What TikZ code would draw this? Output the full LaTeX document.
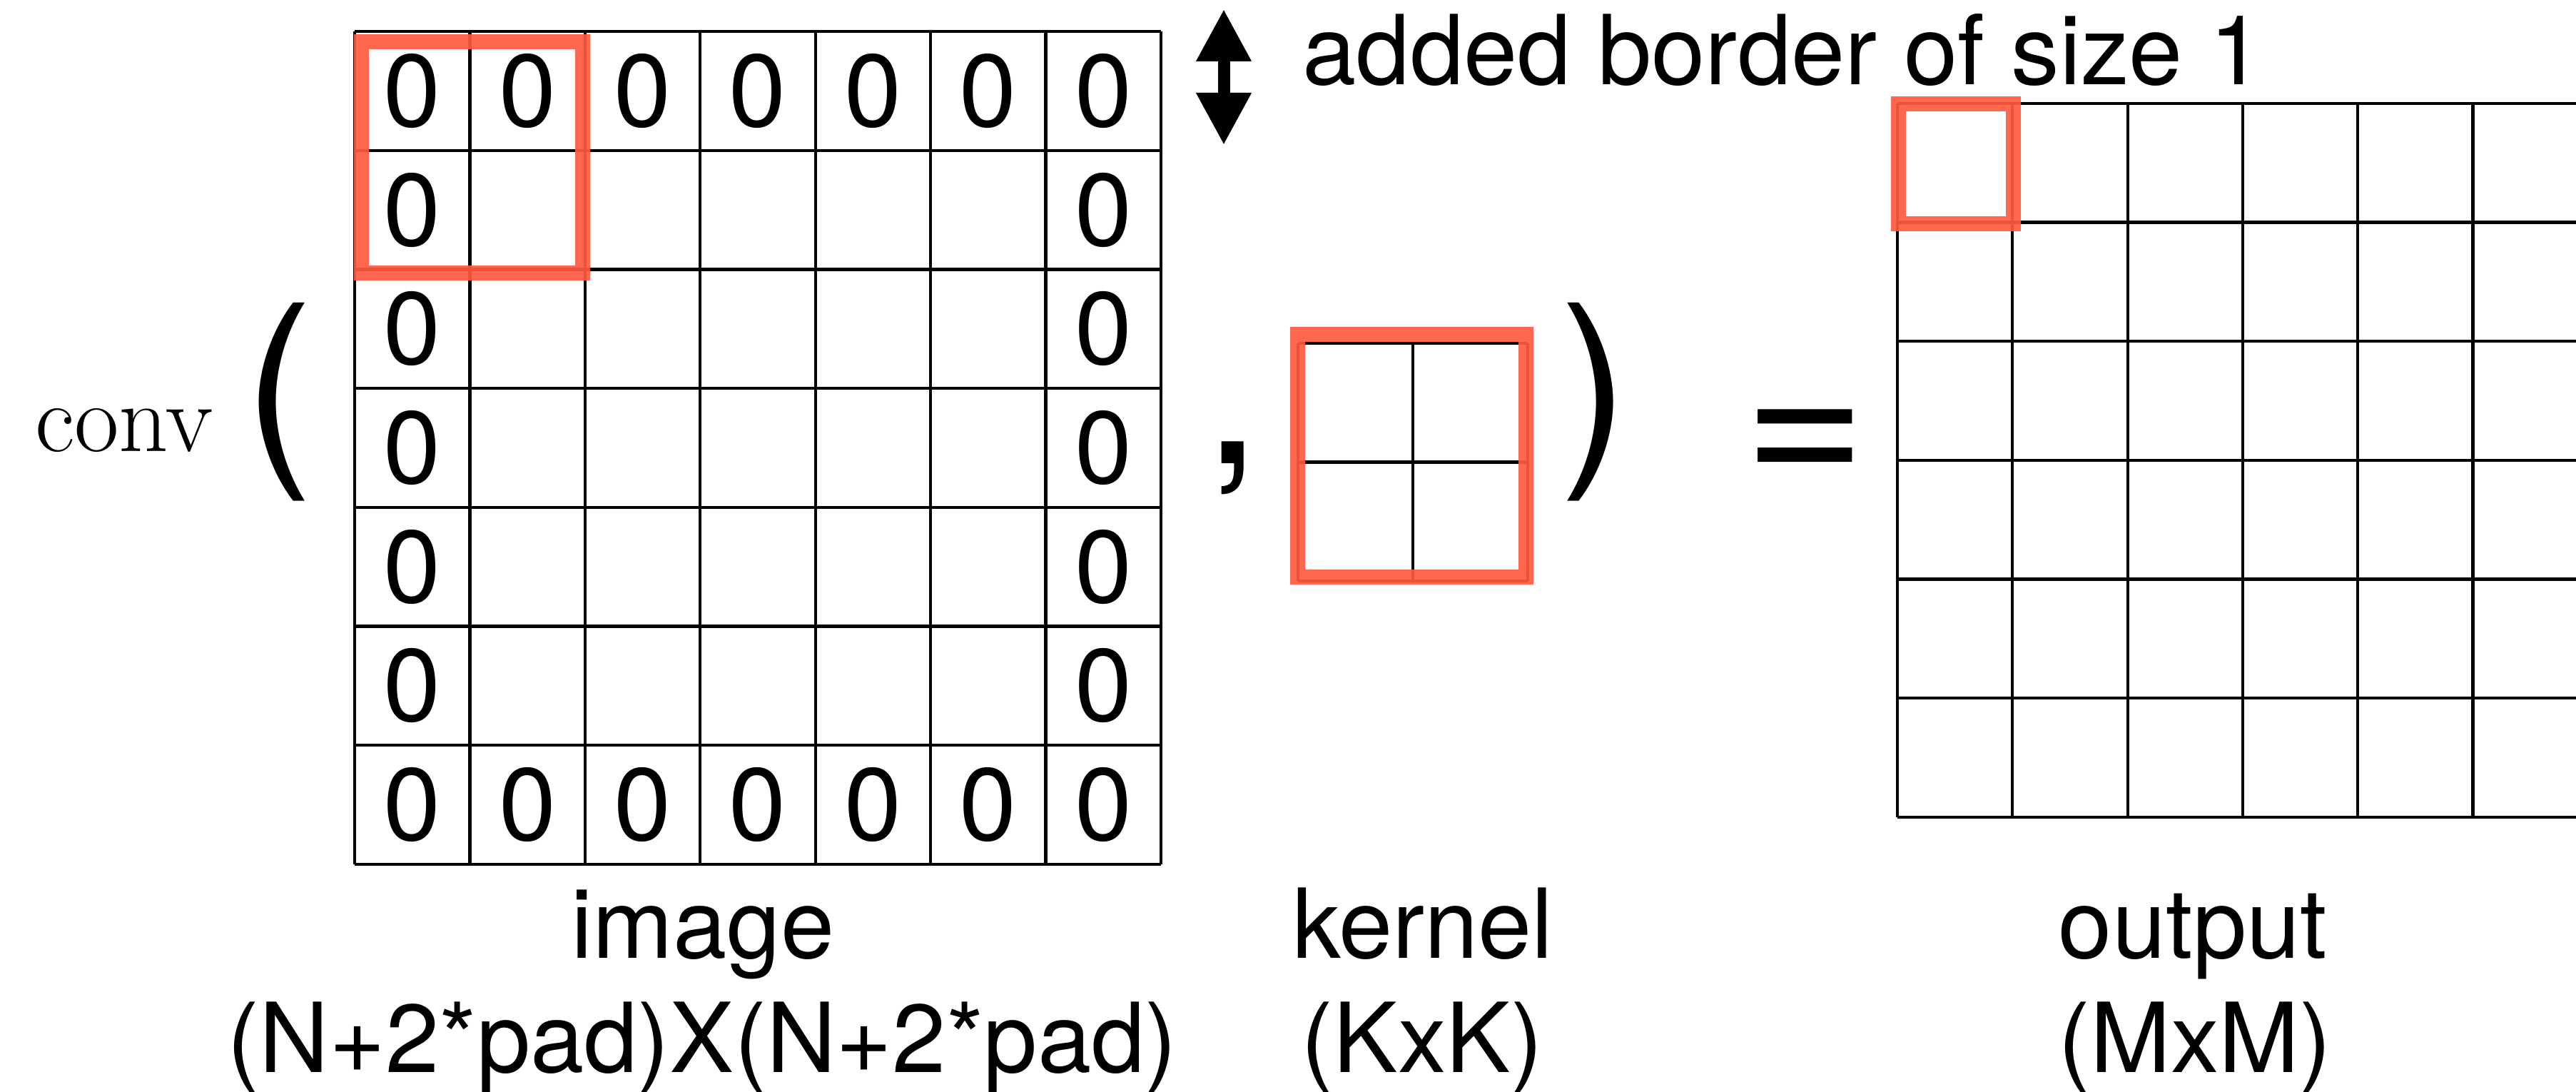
\documentclass[tikz,border=0pt]{standalone}
\usepackage{fontspec}
\setsansfont{TeX Gyre Heros}
\usepackage{xcolor}
\usetikzlibrary{arrows.meta}
\definecolor{WindowRed}{RGB}{255,90,66}

\begin{document}
\begin{tikzpicture}[
	cell/.style 	= {line width=1.2pt, black},
	window/.style 	= {line width=0.21cm, WindowRed, opacity=0.92},
	zero/.style 	= {inner sep=0pt, font=\sffamily\fontsize{41}{41}\selectfont},
	txt/.style 		= {inner sep=0pt, anchor=base, font=\sffamily\fontsize{38.5}{40}\selectfont},
	sym/.style 		= {inner sep=0pt, anchor=base, font=\sffamily\fontsize{84}{84}\selectfont}]
				%\draw[help lines] (0,0) grid (36,15);
				\clip (0,0) rectangle (36.1,15.3);
				
				% image with its border of zeros
				\begin{scope}[shift={(4.97,3.19)}, xscale=1.614, yscale=1.667]
				\draw[cell] (0,0) grid (7,7);
				\foreach \c in {0,...,6}{
					\node[zero] (top\c) at (\c+0.5,6.5) {0};
					\node[zero] (bot\c) at (\c+0.5,0.5) {0};}
				\foreach \r in {1,...,5}{
					\node[zero] (left\r) at (0.5,\r+0.5) {0};
					\node[zero] (right\r) at (6.5,\r+0.5) {0};}
				\end{scope}
				
				% kernel
				\begin{scope}[shift={(18.19,7.16)}, xscale=1.61, yscale=1.665]
				\draw[cell] (0,0) grid (2,2);
				\end{scope}
				
				% output
				\begin{scope}[shift={(26.59,3.85)}, xscale=1.613, yscale=1.667]
				\draw[cell] (0,0) grid (6,6);
				\end{scope}
				
				\draw[window] (5.06,11.47) rectangle (8.16,14.71);
				\draw[window] (18.18,7.215) rectangle (21.385,10.615);
				\draw[window] (26.605,12.165) rectangle (28.215,13.845);
				
				\coordinate (padtop) at (17.15,15.17);
				\coordinate (padbot) at (17.15,13.27);
				\draw[line width=0.17cm, {Triangle[length=0.73cm,width=0.73cm]}-{Triangle[length=0.73cm,width=0.73cm]}] (padtop) -- (padbot);
				
				\node[txt, anchor=base west] (border) at (18.25,14.11) {added border of size 1};
				\node[inner sep=0pt, anchor=base, font=\rmfamily\fontsize{38.7}{40}\selectfont] (conv) at (1.74,8.97) {conv};
				\node[sym] (lpar) at (3.91,8.90) {(};
				\node[sym] (comma) at (17.28,8.80) {,};
				\node[sym] (rpar) at (22.35,8.90) {)};
				\node[sym] (eq) at (25.30,8.45) {=};
				
				\node[txt] (image) at (9.85,1.87) {image};
				\node[txt] (imagesize) at (9.84,0.27) {(N+2*pad)X(N+2*pad)};
				\node[txt] (kernel) at (19.94,1.87) {kernel};
				\node[txt] (kernelsize) at (19.93,0.27) {(KxK)};
				\node[txt] (output) at (30.73,1.87) {output};
				\node[txt] (outputsize) at (30.76,0.27) {(MxM)};
\end{tikzpicture}
\end{document}
